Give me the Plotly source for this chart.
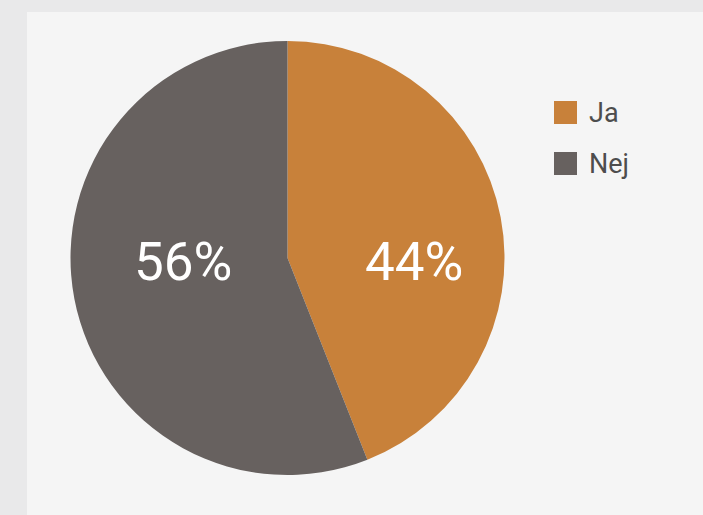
import plotly.graph_objects as go

labels = ["Ja", "Nej"]
values = [44, 56]
colors = ["#c8813a", "#67615f"]

W, H = 703, 515
cx, cy, r = 287.5, 258, 217

fig = go.Figure(go.Pie(
    labels=labels, values=values, sort=False, direction="clockwise", rotation=0,
    marker=dict(colors=colors, line=dict(width=0)),
    textinfo="none",
    domain=dict(x=[(cx - r) / W, (cx + r) / W], y=[(H - cy - r) / H, (H - cy + r) / H]),
    showlegend=False, hoverinfo="none",
))

total = sum(values)
# label offsets from pie centre (pixels), per slice
label_dx = [126, -105]
label_dy = [4, 4]

shapes = [dict(type="rect", xref="paper", yref="paper", x0=27 / W, x1=1.05, y0=-0.05, y1=1 - 12 / H,
               fillcolor="#f5f5f5", line=dict(width=0), layer="below")]
annotations = []
for i, (lab, col, v) in enumerate(zip(labels, colors, values)):
    annotations.append(dict(text=f"{round(100 * v / total)}%", xref="paper", yref="paper",
                            x=(cx + label_dx[i]) / W, y=1 - (cy + label_dy[i]) / H,
                            xanchor="center", yanchor="middle", showarrow=False,
                            font=dict(size=53, color="white", family="Roboto")))
    top = 101 + i * 51
    shapes.append(dict(type="rect", xref="paper", yref="paper",
                       x0=554 / W, x1=577 / W, y0=1 - (top + 23) / H, y1=1 - top / H,
                       fillcolor=col, line=dict(width=0)))
    annotations.append(dict(text=lab, xref="paper", yref="paper", x=587 / W, y=1 - (top + 12) / H,
                            xanchor="left", yanchor="middle", showarrow=False,
                            font=dict(size=27, color="#4d4d4d", family="Roboto")))

fig.update_layout(
    width=W, height=H, margin=dict(l=0, r=0, t=0, b=0),
    paper_bgcolor="#e9e9ea", plot_bgcolor="#e9e9ea",
    shapes=shapes, annotations=annotations,
)
fig.write_html("out.html")
